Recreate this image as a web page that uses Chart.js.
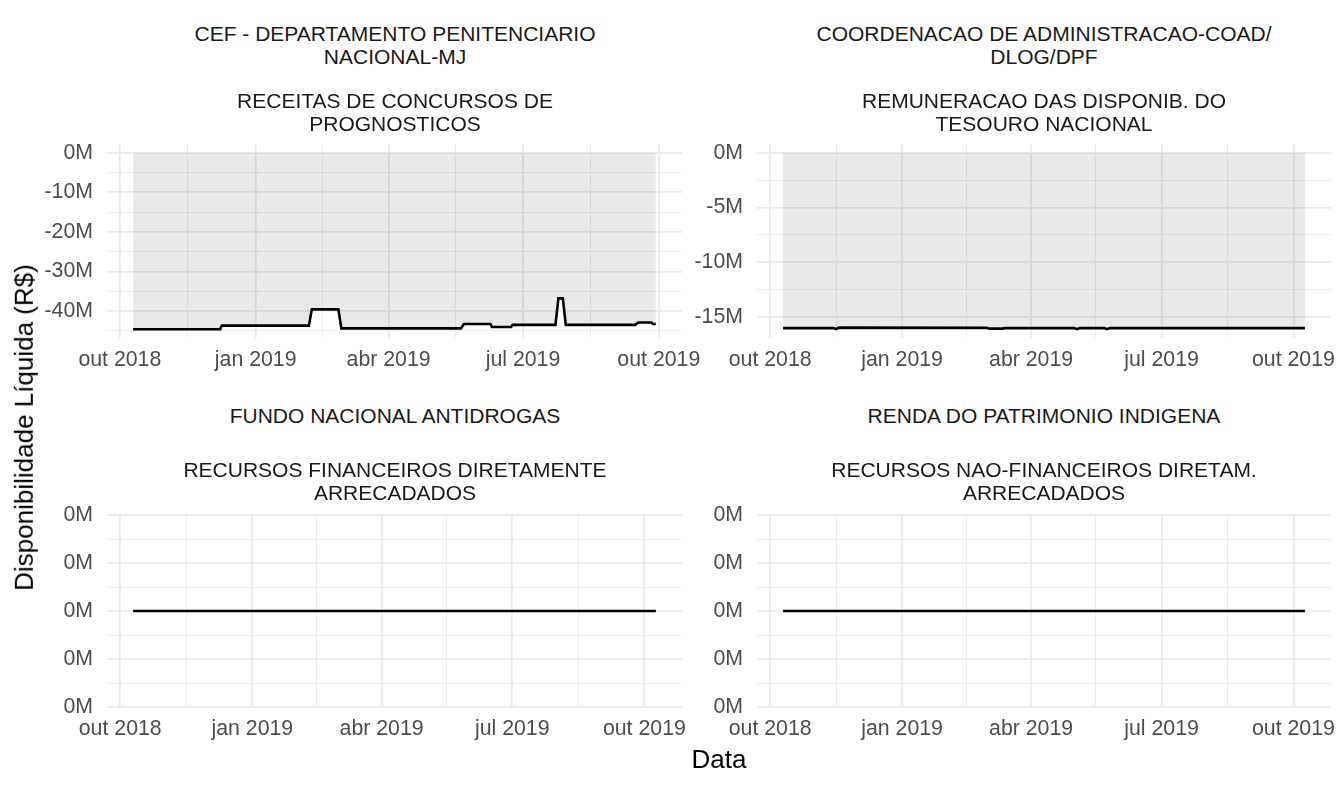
<!DOCTYPE html>
<html>
<head>
<meta charset="utf-8">
<script src="https://cdn.jsdelivr.net/npm/chart.js@4.4.1/dist/chart.umd.min.js"></script>
<style>
  body { margin: 0; background: #fff; }
  #wrap { position: relative; width: 1344px; height: 787px; overflow: hidden; font-family: "Liberation Sans", Arial, sans-serif; }
  canvas { position: absolute; }
  .strip { position: absolute; width: 640px; text-align: center; color: #1a1a1a; font-size: 21px; line-height: 22.5px; white-space: pre-line; }
  .axtitle { position: absolute; color: #000; font-size: 26px; white-space: nowrap; }
</style>
</head>
<body>
<div id="wrap">
  <canvas id="cef" width="732" height="266" style="left:0px;top:117px"></canvas>
  <canvas id="coad" width="731" height="266" style="left:650px;top:117px"></canvas>
  <canvas id="funad" width="732" height="264" style="left:0px;top:488px"></canvas>
  <canvas id="renda" width="731" height="264" style="left:650px;top:488px"></canvas>

  <div class="strip" style="left:75px;top:23px">CEF - DEPARTAMENTO PENITENCIARIO
NACIONAL-MJ</div>
  <div class="strip" style="left:75px;top:90px">RECEITAS DE CONCURSOS DE
PROGNOSTICOS</div>
  <div class="strip" style="left:724px;top:23px">COORDENACAO DE ADMINISTRACAO-COAD/
DLOG/DPF</div>
  <div class="strip" style="left:724px;top:90px">REMUNERACAO DAS DISPONIB. DO
TESOURO NACIONAL</div>
  <div class="strip" style="left:75px;top:405px">FUNDO NACIONAL ANTIDROGAS</div>
  <div class="strip" style="left:75px;top:459px">RECURSOS FINANCEIROS DIRETAMENTE
ARRECADADOS</div>
  <div class="strip" style="left:724px;top:405px">RENDA DO PATRIMONIO INDIGENA</div>
  <div class="strip" style="left:724px;top:459px">RECURSOS NAO-FINANCEIROS DIRETAM.
ARRECADADOS</div>

  <div class="axtitle" id="ytitle">Disponibilidade Líquida (R$)</div>
  <div class="axtitle" id="xtitle">Data</div>
</div>

<script>
// x axis breaks (shared by all panels)
const xTickDates = ['2018-10-01', '2019-01-01', '2019-04-01', '2019-07-01', '2019-10-01'];
const xTickLabels = ['out 2018', 'jan 2019', 'abr 2019', 'jul 2019', 'out 2019'];
const xMinorDates = ['2018-11-16', '2019-02-15', '2019-05-16', '2019-08-16'];

// CEF - Depto Penitenciario / Receitas de concursos de prognosticos
const cefDates = ['2018-10-10', '2018-12-08', '2018-12-09', '2019-02-06', '2019-02-08', '2019-02-26',
    '2019-02-28', '2019-05-20', '2019-05-22', '2019-06-09', '2019-06-10', '2019-06-23', '2019-06-24',
    '2019-07-23', '2019-07-25', '2019-07-28', '2019-07-30', '2019-09-15', '2019-09-17', '2019-09-26',
    '2019-09-27', '2019-09-29'];
const cefValues = [-44.6e6, -44.6e6, -43.7e6, -43.7e6, -39.6e6, -39.6e6,
    -44.4e6, -44.4e6, -43.3e6, -43.3e6, -44.05e6, -44.05e6, -43.5e6,
    -43.5e6, -36.8e6, -36.8e6, -43.5e6, -43.5e6, -42.9e6, -42.9e6,
    -43.3e6, -43.3e6];
const cefTicks = [0, -10e6, -20e6, -30e6, -40e6];
const cefMinor = [-5e6, -15e6, -25e6, -35e6, -45e6];

// COAD / Remuneracao das disponib. do Tesouro Nacional
const coadDates = ['2018-10-10', '2018-11-14', '2018-11-16', '2018-11-18', '2019-03-01', '2019-03-03',
    '2019-03-12', '2019-03-14', '2019-05-01', '2019-05-03', '2019-05-05', '2019-05-22', '2019-05-24',
    '2019-05-26', '2019-10-09'];
const coadValues = [-16.0e6, -16.0e6, -16.1e6, -15.96e6, -15.98e6, -16.05e6,
    -16.05e6, -16.0e6, -16.0e6, -16.1e6, -16.0e6, -16.0e6, -16.1e6,
    -16.0e6, -16.0e6];
const coadTicks = [0, -5e6, -10e6, -15e6];
const coadMinor = [-2.5e6, -7.5e6, -12.5e6];

// Fundo Nacional Antidrogas / Renda do Patrimonio Indigena (all zero)
const funadDates = ['2018-10-10', '2019-10-09'];
const funadValues = [0, 0];
const rendaDates = ['2018-10-10', '2019-10-09'];
const rendaValues = [0, 0];
const zeroTicks = [0.5, 0.25, 0, -0.25, -0.5];
const zeroMinor = [0.375, 0.125, -0.125, -0.375];

const FONT = '"Liberation Sans", Arial, sans-serif';
const GRID = '#ebebeb';

function toDay(s) {
    return new Date(s + 'T00:00:00Z').getTime() / 86400000;
}

function fmtM(v) {
    let m = Math.round(v / 1e6);
    if (m === 0) m = 0; // avoid "-0"
    return m + 'M';
}

// ggplot-like limits: 5% expansion, area always includes zero
function yLimits(values) {
    const lo = Math.min(0, ...values);
    const hi = Math.max(0, ...values);
    if (hi === lo) return [lo - 0.5, hi + 0.5];
    const pad = (hi - lo) * 0.05;
    return [lo - pad, hi + pad];
}

function xLimits(days) {
    const lo = Math.min(...days), hi = Math.max(...days);
    const pad = (hi - lo) * 0.05;
    return [lo - pad, hi + pad];
}

function makePanel(id, dates, values, yMajor, yMinor) {
    const days = dates.map(toDay);
    const [xmin, xmax] = xLimits(days);
    const [ymin, ymax] = yLimits(values);

    const xMajor = xTickDates.map(toDay);
    const xMin = xMinorDates.map(toDay);
    const xMinorSet = new Set(xMin);
    const yMinorSet = new Set(yMinor);

    const points = days.map((d, i) => ({ x: d, y: values[i] }));

    return new Chart(document.getElementById(id), {
        type: 'line',
        data: {
            datasets: [{
                data: points,
                borderColor: '#000',
                borderWidth: 2.6,
                backgroundColor: 'rgba(0,0,0,0.087)',
                fill: 'origin',
                pointRadius: 0,
                tension: 0
            }]
        },
        options: {
            responsive: false,
            animation: false,
            // top/right padding bigger than the label overhang so the plot box stays put
            layout: { autoPadding: false, padding: { left: 0, top: 27, right: 50, bottom: 0 } },
            plugins: { legend: { display: false }, tooltip: { enabled: false } },
            scales: {
                x: {
                    type: 'linear',
                    min: xmin,
                    max: xmax,
                    border: { display: false },
                    grid: {
                        color: GRID,
                        drawTicks: false,
                        lineWidth: ctx => xMinorSet.has(ctx.tick.value) ? 0.9 : 1.8
                    },
                    afterBuildTicks: s => {
                        s.ticks = xMajor.concat(xMin)
                            .filter(v => v >= xmin && v <= xmax)
                            .sort((a, b) => a - b)
                            .map(v => ({ value: v }));
                    },
                    afterFit: s => { s.height = 45; },
                    ticks: {
                        autoSkip: false,
                        maxRotation: 0,
                        padding: 9,
                        color: '#4d4d4d',
                        font: { family: FONT, size: 21.3 },
                        callback: v => {
                            const i = xMajor.indexOf(v);
                            return i >= 0 ? xTickLabels[i] : '';
                        }
                    }
                },
                y: {
                    min: ymin,
                    max: ymax,
                    border: { display: false },
                    grid: {
                        color: GRID,
                        drawTicks: false,
                        lineWidth: ctx => yMinorSet.has(ctx.tick.value) ? 0.9 : 1.8
                    },
                    afterBuildTicks: s => {
                        s.ticks = yMajor.concat(yMinor)
                            .filter(v => v >= ymin && v <= ymax)
                            .sort((a, b) => a - b)
                            .map(v => ({ value: v }));
                    },
                    afterFit: s => { s.width = 107; },
                    ticks: {
                        autoSkip: false,
                        padding: 14,
                        color: '#4d4d4d',
                        font: { family: FONT, size: 21.3 },
                        callback: v => yMajor.includes(v) ? fmtM(v) : ''
                    }
                }
            }
        }
    });
}

// plot boxes: left col x 107-682, right col x 757-1331; rows y 144-338 and 515-707
makePanel('cef', cefDates, cefValues, cefTicks, cefMinor);
makePanel('coad', coadDates, coadValues, coadTicks, coadMinor);
makePanel('funad', funadDates, funadValues, zeroTicks, zeroMinor);
makePanel('renda', rendaDates, rendaValues, zeroTicks, zeroMinor);

// axis titles
const yt = document.getElementById('ytitle');
yt.style.left = (24 - yt.offsetWidth / 2) + 'px';
yt.style.top = (427 - yt.offsetHeight / 2) + 'px';
yt.style.transform = 'rotate(-90deg)';
const xt = document.getElementById('xtitle');
xt.style.left = (719 - xt.offsetWidth / 2) + 'px';
xt.style.top = (759 - xt.offsetHeight / 2) + 'px';
</script>
</body>
</html>
